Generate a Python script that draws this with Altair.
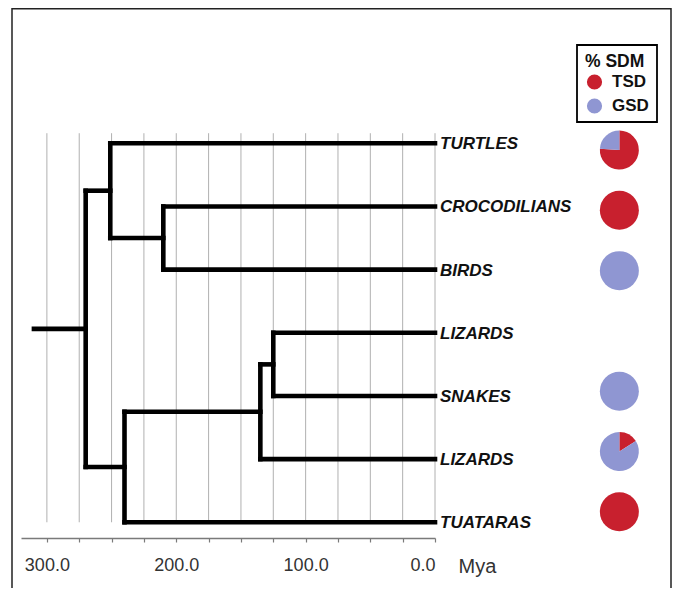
import altair as alt
import pandas as pd

# ---------------- data ----------------
taxa = ["TURTLES", "CROCODILIANS", "BIRDS", "LIZARDS", "SNAKES", "LIZARDS", "TUATARAS"]

# internal nodes of the tree: name, divergence age (Mya), children (int = leaf index)
node_names = ["root", "archelosaurs", "archosaurs", "lepidosaurs", "squamates", "lizards_snakes"]
node_ages = [270, 251, 210, 240, 135, 125]
node_children = [["archelosaurs", "lepidosaurs"], [0, "archosaurs"], [1, 2],
                 ["squamates", 6], ["lizards_snakes", 5], [3, 4]]
stem_age = 310

# % of species with temperature-dependent sex determination (None = no pie)
pct_tsd = [76, 100, 0, None, 0, 16, 100]
sdm_classes = ["TSD", "GSD"]

grid_ticks = list(range(0, 301, 25))

RED = "#c8202e"
BLUE = "#8f96d2"
FONT = "Liberation Sans"

# ---------------- build tables ----------------
children = dict(zip(node_names, node_children))
age = dict(zip(node_names, node_ages))


def ypos(n):
    if isinstance(n, int):
        return float(n)
    c = children[n]
    return (ypos(c[0]) + ypos(c[1])) / 2


rows = []


def walk(n, parent_age):
    y = ypos(n)
    a = 0 if isinstance(n, int) else age[n]
    rows.append(dict(x=parent_age, x2=a, y=y, y2=y))
    if not isinstance(n, int):
        ys = [ypos(c) for c in children[n]]
        rows.append(dict(x=a, x2=a, y=min(ys), y2=max(ys)))
        for c in children[n]:
            walk(c, a)


walk("root", stem_age)
seg_df = pd.DataFrame(rows)

label_df = pd.DataFrame({"taxon": taxa, "y": list(range(len(taxa))), "x": [0] * len(taxa)})

# ---------------- scales / axis ----------------
xscale = alt.Scale(domain=[0, 320], reverse=True, nice=False, zero=False)
yscale = alt.Scale(domain=[-0.29, 6.249], reverse=True, nice=False, zero=False)
pie_yscale = alt.Scale(domain=[-0.415, 6.434], reverse=True, nice=False, zero=False)

xaxis = alt.Axis(
    values=grid_ticks,
    labelExpr="datum.value % 100 == 0 ? format(datum.value, '.1f') : ''",
    grid=False, labelOverlap=False,
    domainColor="#7a7a7a", domainWidth=1.5,
    tickColor="#7a7a7a", tickSize=4, tickWidth=1.2,
    labelFont=FONT, labelFontSize=18, labelColor="#333333", labelPadding=14,
    title="Mya", titleFont=FONT, titleFontSize=20, titleFontWeight="normal",
    titleColor="#333333", titleAlign="left", titleBaseline="middle",
    titleX=437, titleY=28,
)

color_scale = alt.Scale(domain=sdm_classes, range=[RED, BLUE])
legend = alt.Legend(
    title="% SDM", orient="none", legendX=556, legendY=-80,
    symbolType="circle", symbolSize=230, symbolStrokeWidth=0,
    symbolOffset=1, labelOffset=9,
    titleFont=FONT, titleFontSize=17.5, titleFontWeight="bold", titleColor="#111111",
    labelFont=FONT, labelFontSize=17, labelFontWeight="bold", labelColor="#111111",
    padding=8, rowPadding=6, titlePadding=3,
    strokeColor="black",
)

# ---------------- layers ----------------
frame = alt.Chart(pd.DataFrame({"f": [0]})).mark_rect(
    fillOpacity=0, stroke="#222222", strokeWidth=1.5
).encode(x=alt.value(-9), x2=alt.value(650), y=alt.value(-116.25), y2=alt.value(600))

grid = alt.Chart(pd.DataFrame({"t": grid_ticks})).mark_rule(
    color="#b0b0b0", strokeWidth=1
).encode(
    x=alt.X("t:Q", scale=xscale, axis=xaxis),
    y=alt.Y(datum=-0.16, type="quantitative", scale=yscale, axis=None),
    y2=alt.Y2(datum=6),
)

tree = alt.Chart(seg_df).mark_rule(
    color="black", strokeWidth=4.6, strokeCap="square"
).encode(
    x=alt.X("x:Q", scale=xscale, axis=xaxis),
    x2="x2:Q",
    y=alt.Y("y:Q", scale=yscale, axis=None),
    y2="y2:Q",
)

labels = alt.Chart(label_df).mark_text(
    align="left", baseline="middle", dx=5, dy=1, fontSize=17,
    fontWeight="bold", fontStyle="italic", font=FONT, color="#111111"
).encode(
    x=alt.X("x:Q", scale=xscale, axis=xaxis),
    y=alt.Y("y:Q", scale=yscale, axis=None),
    text="taxon:N",
)

pie_layers = []
for i, p in enumerate(pct_tsd):
    if p is None:
        continue
    d = pd.DataFrame({"sdm": sdm_classes, "pct": [p, 100 - p], "k": [0, 1]})
    pie_layers.append(
        alt.Chart(d).mark_arc(radius=19.5).encode(
            x=alt.X(datum=-142.5, type="quantitative", scale=xscale, axis=xaxis),
            y=alt.Y(datum=i, type="quantitative", scale=pie_yscale, axis=None),
            theta=alt.Theta("pct:Q", stack=True, scale=alt.Scale(domain=[0, 100])),
            order=alt.Order("k:Q"),
            color=alt.Color("sdm:N", scale=color_scale, legend=legend),
        )
    )
pies = alt.layer(*pie_layers)

chart = alt.layer(frame, grid, tree, labels, pies).resolve_scale(
    y="independent"
).properties(
    width=414, height=413,
    autosize=alt.AutoSizeParams(type="none"),
    padding={"left": 13, "top": 117, "right": 237, "bottom": 50},
).configure_view(strokeWidth=0).configure_legend(strokeWidth=1.8)

chart.save("out.html", embed_options={"renderer": "svg", "actions": False})
